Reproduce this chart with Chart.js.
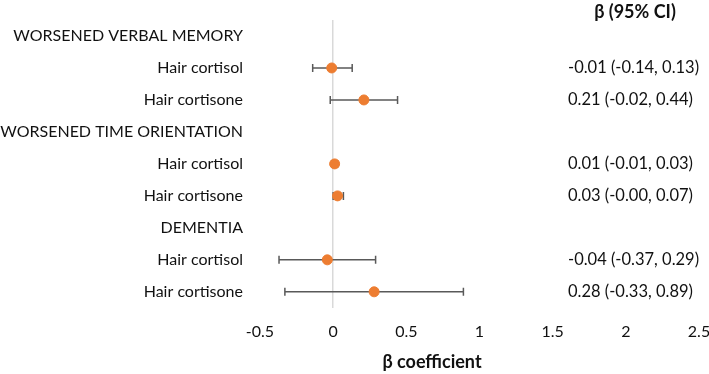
<!DOCTYPE html>
<html lang="en">
<head>
<meta charset="utf-8"/>
<title>Forest plot</title>
<script src="https://cdn.jsdelivr.net/npm/chart.js"></script>
<style>
  html, body { margin: 0; padding: 0; background: #fff; }
  #wrap { width: 709px; height: 374px; }
</style>
</head>
<body>
<div id="wrap"><canvas id="forest"></canvas></div>
<script>
const rowLabels = ['WORSENED VERBAL MEMORY', 'Hair cortisol', 'Hair cortisone',
  'WORSENED TIME ORIENTATION', 'Hair cortisol', 'Hair cortisone',
  'DEMENTIA', 'Hair cortisol', 'Hair cortisone'];
// row index of each estimate
const estRows = [1, 2, 4, 5, 7, 8];
const beta  = [-0.01, 0.21, 0.01, 0.03, -0.04, 0.28];
const lower = [-0.14, -0.02, -0.01, -0.00, -0.37, -0.33];
const upper = [0.13, 0.44, 0.03, 0.07, 0.29, 0.89];
const ciText = ['-0.01 (-0.14, 0.13)', '0.21 (-0.02, 0.44)', '0.01 (-0.01, 0.03)',
  '0.03 (-0.00, 0.07)', '-0.04 (-0.37, 0.29)', '0.28 (-0.33, 0.89)'];
const xTicks = [-0.5, 0, 0.5, 1, 1.5, 2, 2.5];

const FONT = 'Lato, "Open Sans", sans-serif';
const TXT = '#111';

const forestExtras = {
  id: 'forestExtras',
  beforeDatasetsDraw(chart) {
    const { ctx, scales: { x, y } } = chart;
    ctx.save();
    ctx.strokeStyle = '#595959';
    ctx.lineWidth = 1.5;
    estRows.forEach((r, i) => {
      const py = y.getPixelForValue(r);
      const x1 = x.getPixelForValue(lower[i]);
      const x2 = x.getPixelForValue(upper[i]);
      ctx.beginPath();
      ctx.moveTo(x1, py); ctx.lineTo(x2, py);
      ctx.moveTo(x1, py - 4); ctx.lineTo(x1, py + 4);
      ctx.moveTo(x2, py - 4); ctx.lineTo(x2, py + 4);
      ctx.stroke();
    });
    ctx.restore();
  },
  afterDraw(chart) {
    const { ctx, scales: { y } } = chart;
    ctx.save();
    ctx.fillStyle = TXT;
    ctx.textBaseline = 'middle';
    ctx.font = '16.5px ' + FONT;
    ctx.textAlign = 'left';
    estRows.forEach((r, i) => {
      ctx.fillText(ciText[i], 568, y.getPixelForValue(r));
    });
    ctx.font = 'bold 18px ' + FONT;
    ctx.textAlign = 'center';
    ctx.fillText('β (95% CI)', 635, 12);
    ctx.fillText('β coefficient', 432, 362);
    ctx.restore();
  }
};

new Chart(document.getElementById('forest'), {
  type: 'scatter',
  data: {
    datasets: [{
      data: estRows.map((r, i) => ({ x: beta[i], y: r })),
      backgroundColor: '#ED7D31',
      borderColor: '#ED7D31',
      pointRadius: 5,
      pointHoverRadius: 5
    }]
  },
  options: {
    responsive: true,
    maintainAspectRatio: false,
    animation: false,
    layout: { padding: { top: 20, right: 10, bottom: 19, left: 0 } },
    plugins: { legend: { display: false }, tooltip: { enabled: false } },
    scales: {
      x: {
        type: 'linear',
        min: -0.5, max: 2.5,
        afterBuildTicks: s => { s.ticks = xTicks.map(v => ({ value: v })); },
        afterFit: s => { s.paddingLeft = 0; s.paddingRight = 0; },
        border: { display: false },
        grid: {
          drawTicks: false,
          color: c => c.tick && c.tick.value === 0 ? '#d9d9d9' : 'rgba(0,0,0,0)',
          lineWidth: 1.5
        },
        ticks: {
          color: TXT, font: { family: FONT, size: 16 }, padding: 14, maxRotation: 0,
          callback: v => String(v)
        }
      },
      y: {
        type: 'linear',
        min: -0.5, max: 8.5,
        reverse: true,
        afterBuildTicks: s => { s.ticks = rowLabels.map((_, i) => ({ value: i })); },
        afterFit: s => { s.width = 260; s.paddingTop = 0; s.paddingBottom = 0; },
        border: { display: false },
        grid: { display: false, drawTicks: false },
        ticks: {
          color: TXT,
          font: { family: FONT, size: 16 },
          padding: 17,
          callback: v => rowLabels[v]
        }
      }
    }
  },
  plugins: [forestExtras]
});
</script>
</body>
</html>
